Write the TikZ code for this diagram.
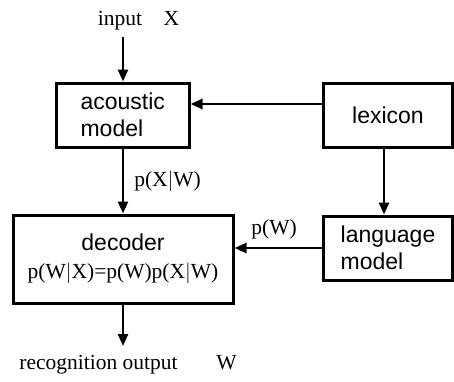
\documentclass[tikz,border=0pt]{standalone}
\usepackage{fontspec}
\setmainfont{Liberation Serif}
\setsansfont{Liberation Sans}
\usetikzlibrary{arrows.meta}
\newcommand{\boxfont}{\sffamily\fontsize{23}{26.5}\selectfont}
\newcommand{\lblfont}{\fontsize{21.5}{26}\selectfont}
\tikzset{
  block/.style={draw, line width=3pt, rectangle, inner sep=0pt, font=\boxfont},
  flow/.style={line width=2.5pt, -{Triangle[length=12pt,width=10pt]}},
  lbl/.style={inner sep=0pt, font=\lblfont}
}

\begin{document}
\begin{tikzpicture}[x=1pt,y=-1pt]
\useasboundingbox (0,0) rectangle (454,381);
\node[block, minimum width=132.5pt, minimum height=64pt, align=left] (acoustic) at (122.75,115) {acoustic\\model};
\node[block, minimum width=129.5pt, minimum height=64pt] (lexicon) at (388,115) {lexicon};
\node[block, minimum width=129.5pt, minimum height=64pt, align=left] (language) at (388,248) {language\\model};
\node[block, minimum width=220pt, minimum height=88pt, align=center] (decoder) at (123,259) {decoder\\[1pt]{\rmfamily\lblfont p(W$|$X)=p(W)p(X$|$W)}};
\node[lbl] (input) at (138.5,21) {input\quad X};
\node[lbl] (output) at (128,365) {recognition output\hspace{1.8em}W};
\coordinate (in) at (123,37);
\coordinate (out) at (123,346);
\draw[flow] (in) -- (in |- acoustic.north);
\draw[flow] ([yshift=11pt]lexicon.west) -- ([yshift=11pt]lexicon.west -| acoustic.east);
\draw[flow] ([xshift=-4pt]lexicon.south) -- ([xshift=-4pt]language.north);
\draw[flow] (acoustic.south -| in) -- node[lbl, right=10pt] {p(X$|$W)} (decoder.north -| in);
\draw[flow] (language.west) -- node[lbl, above=8pt, xshift=-4pt] {p(W)} (language.west -| decoder.east);
\draw[flow] (decoder.south -| out) -- (out);
\end{tikzpicture}
\end{document}
